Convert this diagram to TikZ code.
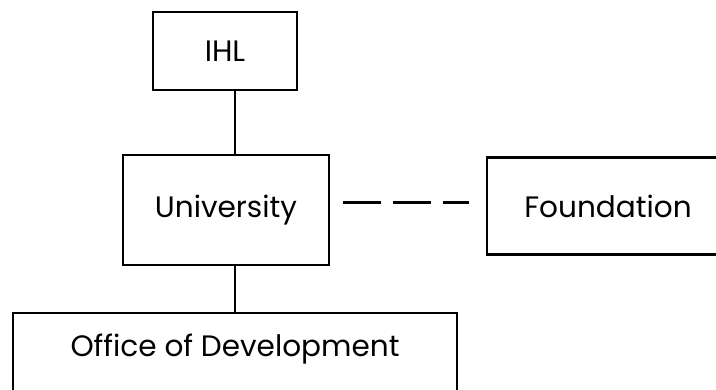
\documentclass[tikz,border=0pt]{standalone}
\usepackage{fontspec}
\setmainfont{Poppins}
\begin{document}
\begin{tikzpicture}[line width=2pt]
\tikzset{orgbox/.style={draw, rectangle, inner sep=0pt, font=\fontsize{21}{25}\selectfont}}
\useasboundingbox (0,0) rectangle (17.9,-9.725);
\node[orgbox, minimum width=3.6cm, minimum height=1.95cm] (ihl) at (5.625,-1.275){IHL};
\node[orgbox, minimum width=5.15cm, minimum height=2.75cm] (univ) at (5.65,-5.25){University};
\node[orgbox, minimum width=6.05cm, minimum height=2.43cm] (found) at (15.2,-5.15){Foundation};
\node[orgbox, minimum width=11.1cm, minimum height=2.05cm] (office) at (5.875,-8.85){};
\node[font=\fontsize{21}{25}\selectfont] (officetxt) at (5.875,-8.72){Office of Development};
\draw[](ihl.south -| office.north) -- (univ.north -| office.north);
\draw[](univ.south -| office.north) -- (office.north);
\draw[dash pattern=on 0.95cm off 0.3cm, shorten <=0.32cm, shorten >=0.42cm](univ.east |- 0,-5.07) -- (found.west |- 0,-5.07);
\end{tikzpicture}
\end{document}
